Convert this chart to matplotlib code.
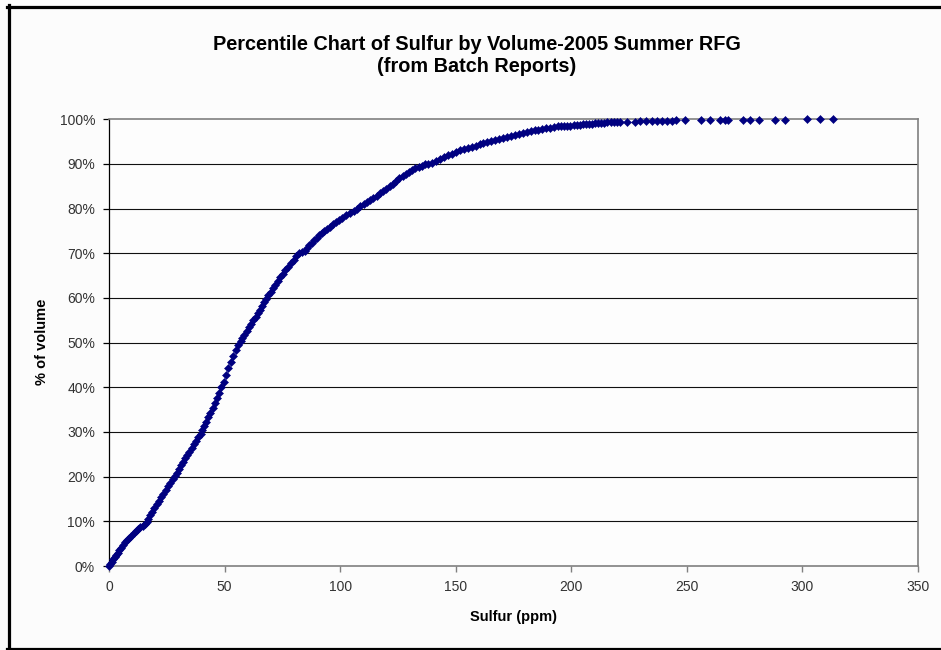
import matplotlib
matplotlib.use("Agg")
import matplotlib.pyplot as plt
from matplotlib.lines import Line2D

# ---- data ----
sulfur_ppm = [
    0, 0.6, 1.2, 1.9, 2.5, 3.1, 3.8, 4.5, 5.2, 6.0, 6.8, 7.7, 8.6, 9.6, 10.6, 11.6, 12.6, 13.6, 14.6, 15.6, 16.3,
    17.0, 17.8, 18.7, 19.6, 20.6, 21.5, 22.5, 23.5, 24.5, 25.6, 26.6, 27.6, 28.6, 29.5, 30.3, 31.2, 32.0, 32.9,
    33.9, 34.8, 35.8, 36.8, 37.8, 38.7, 39.6, 40.4,
    41.1, 41.9, 42.8, 43.8, 44.8, 45.7, 46.7, 47.7, 48.6,
    49.6, 50.6, 51.6, 52.6, 53.7, 54.9, 56.0, 57.0,
    57.7, 58.6, 59.5, 60.4, 61.4, 62.5, 63.4, 64.3, 65.3, 66.2, 67.1, 68.1, 69.0,
    69.9, 70.9, 72.0, 73.0, 74.1, 75.2, 76.3, 77.5, 78.7, 79.9, 81.1, 82.4, 83.7,
    84.9, 85.8, 86.7, 87.7, 88.8, 89.8, 90.9, 92.0, 93.1, 94.3, 95.5, 96.7, 98.0, 99.4, 100.9, 102.5, 104.1,
    105.8, 107.4,
    108.8, 110.2, 111.6, 113.0, 114.4, 115.8, 117.2, 118.6, 120.0, 121.4, 122.8, 124.2, 125.6, 127.0, 128.4,
    129.8, 131.2, 132.6, 134.0, 135.4, 136.8, 138.2,
    139.9, 141.6, 143.3, 145.0, 146.7, 148.4, 150.1, 151.8, 153.5, 155.2, 156.9, 158.6, 160.3, 162.0, 163.7,
    165.4, 167.1, 168.8, 170.5, 172.2, 173.9, 175.6, 177.3, 179.0, 180.7, 182.4, 184.1, 185.8, 187.5, 189.2,
    190.9, 192.6,
    194.3, 195.6, 197.0, 198.3, 199.6, 201.0, 202.3, 203.6, 205.0, 206.3, 207.6, 209.0, 210.3, 211.6, 213.0,
    214.3, 215.6, 217.0, 218.3, 219.6,
    221.2, 224.1, 227.4, 229.9, 232.5, 234.9, 237.1, 239.3, 241.4, 243.6, 245.5, 249.4, 256.1, 260.2, 264.5,
    266.7, 267.8, 274.3, 277.2, 281.1, 288.3, 292.3, 302.0, 307.5, 313.3,
]
pct_volume = [
    0, 0.5, 1.0, 1.5, 2.0, 2.5, 3.0, 3.5, 4.1, 4.8, 5.3, 5.8, 6.3, 6.8, 7.3, 7.8, 8.3, 8.8, 9.0, 9.4, 9.9,
    10.6, 11.4, 12.2, 13.0, 13.8, 14.6, 15.4, 16.2, 17.0, 17.8, 18.6, 19.4, 20.1, 20.9, 21.7, 22.5, 23.3, 24.1,
    24.9, 25.6, 26.4, 27.2, 28.0, 28.8, 29.6, 30.4,
    31.3, 32.3, 33.3, 34.3, 35.4, 36.5, 37.6, 38.8, 40.0,
    41.3, 42.8, 44.3, 45.7, 47.0, 48.3, 49.4, 50.3,
    51.0, 51.8, 52.6, 53.4, 54.2, 55.0, 55.8, 56.6, 57.4, 58.2, 59.0, 59.8, 60.6,
    61.4, 62.2, 63.0, 63.8, 64.6, 65.4, 66.2, 67.0, 67.8, 68.6, 69.4, 70.0, 70.3,
    70.6, 71.2, 71.8, 72.4, 73.0, 73.5, 74.0, 74.5, 75.0, 75.5, 76.0, 76.5, 77.0, 77.5, 78.0, 78.5, 79.0,
    79.5, 80.0,
    80.5, 81.0, 81.5, 82.0, 82.4, 82.9, 83.4, 83.9, 84.5, 85.1, 85.6, 86.2, 86.8, 87.3, 87.8,
    88.2, 88.6, 89.0, 89.3, 89.6, 89.9, 90.1,
    90.3, 90.7, 91.1, 91.5, 91.9, 92.3, 92.7, 93.1, 93.4, 93.6, 93.9, 94.1, 94.4, 94.6, 94.9,
    95.1, 95.4, 95.6, 95.8, 96.1, 96.3, 96.5, 96.7, 97.0, 97.2, 97.3, 97.5, 97.6, 97.8, 98.0,
    98.1, 98.3,
    98.4, 98.45, 98.5, 98.6, 98.6, 98.7, 98.7, 98.8, 98.85, 98.9, 99.0, 99.0, 99.1, 99.1, 99.2,
    99.2, 99.3, 99.3, 99.35, 99.4,
    99.4, 99.45, 99.5, 99.55, 99.6, 99.62, 99.65, 99.68, 99.7, 99.72, 99.75, 99.8, 99.82, 99.84, 99.86,
    99.87, 99.88, 99.9, 99.91, 99.92, 99.94, 99.95, 99.97, 99.98, 100.0,
]
x_ticks = [0, 50, 100, 150, 200, 250, 300, 350]
y_ticks = [0, 10, 20, 30, 40, 50, 60, 70, 80, 90, 100]
y_tick_labels = ["0%", "10%", "20%", "30%", "40%", "50%", "60%", "70%", "80%", "90%", "100%"]
title_text = "Percentile Chart of Sulfur by Volume-2005 Summer RFG\n(from Batch Reports)"
x_label = "Sulfur (ppm)"
y_label = "% of volume"

W, H = 941, 650
plt.rcParams['font.family'] = ['Liberation Sans', 'DejaVu Sans']
fig = plt.figure(figsize=(W / 100, H / 100), dpi=100, facecolor="#fcfcfc")

L, R, T, B = 109, 918, 119.3, 566
ax = fig.add_axes([L / W, 1 - B / H, (R - L) / W, (B - T) / H])
ax.set_facecolor("#fdfdfd")

ax.set_xlim(0, 350)
ax.set_ylim(0, 100)
ax.set_xticks(x_ticks)
ax.set_xticklabels([str(v) for v in x_ticks])
ax.set_yticks(y_ticks)
ax.set_yticklabels(y_tick_labels)

for y in y_ticks[1:-1]:
    ax.axhline(y, color="#111111", lw=0.8, zorder=1)

ax.plot(sulfur_ppm, pct_volume, linestyle="none", marker="D", ms=3.9,
        color="#000080", mec="#000080", mew=0.4, clip_on=False, zorder=3)

ax.spines["left"].set_color("#000000")
ax.spines["left"].set_linewidth(0.9)
for s in ("top", "right", "bottom"):
    ax.spines[s].set_color("#808080")
    ax.spines[s].set_linewidth(1.2)

ax.tick_params(axis="x", direction="out", length=4, width=1, color="#808080",
               labelsize=10, labelcolor="#333333", pad=6)
ax.tick_params(axis="y", direction="out", length=4, width=0.9, color="#000000",
               labelsize=10, labelcolor="#333333", pad=6)

fig.text(477 / W, 1 - 55 / H, title_text, ha="center", va="center",
         fontsize=14.3, fontweight="bold", linespacing=1.2, color="#000000")
fig.text(513 / W, 1 - 617 / H, x_label, ha="center", va="center",
         fontsize=10.5, fontweight="bold", color="#000000")
fig.text(42 / W, 1 - 342 / H, y_label, ha="center", va="center", rotation=90,
         fontsize=10.5, fontweight="bold", color="#000000")

# outer black frame (left, top, bottom visible in the reference)
lw_px = 3.2
for (x0, y0, x1, y1) in [(8.5, 5, 8.5, 650), (7, 6.5, 941, 6.5), (7, 648.5, 941, 648.5)]:
    fig.add_artist(Line2D([x0 / W, x1 / W], [1 - y0 / H, 1 - y1 / H],
                          transform=fig.transFigure, color="black", lw=lw_px * 0.72))

fig.savefig("out.png", dpi=100, facecolor=fig.get_facecolor())
